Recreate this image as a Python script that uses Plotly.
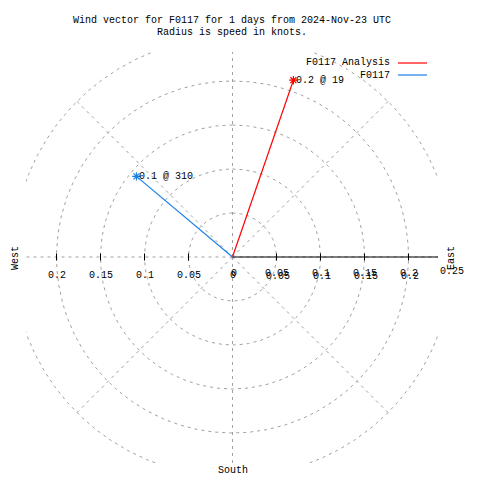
import numpy as np
import plotly.graph_objects as go

# ---------------- data ----------------
title_lines = ["Wind vector for F0117 for 1 days from 2024-Nov-23 UTC",
               "Radius is speed in knots."]
series_names = ["F0117 Analysis", "F0117"]
speeds = [0.2125, 0.1425]          # knots
directions = [19, 310]             # degrees from north, clockwise
series_colors = ["#ff0000", "#1a80e6"]
ring_radii = [0.05, 0.1, 0.15, 0.2, 0.25]
spoke_angles = [0, 45, 90, 135, 180, 225, 270, 315]
tick_vals = [0.05, 0.1, 0.15, 0.2]
tick_labels = ["0.05", "0.1", "0.15", "0.2"]
compass_labels = ["West", "East", "South"]

# ---------------- geometry helpers ----------------
W = H = 480
L, R, T, B = 26, 42, 52, 17
PW, PH = W - L - R, H - T - B
SCALE = 880.0                      # px per knot
CX, CY = 232.5, 257.0
xr = [(L - CX) / SCALE, (W - R - CX) / SCALE]
yr = [(CY - (H - B)) / SCALE, (CY - T) / SCALE]


def pxx(px):
    return (px - L) / PW


def pxy(py):
    return (H - B - py) / PH


def dx2px(x):
    return CX + x * SCALE


FONT = "Liberation Mono, DejaVu Sans Mono, monospace"
GRID = "#a0a0a0"
DASH = "3px,4px"

fig = go.Figure()

# polar grid rings
th = np.linspace(0, 2 * np.pi, 721)
for r in ring_radii:
    fig.add_trace(go.Scatter(x=r * np.sin(th), y=r * np.cos(th), mode="lines",
                             line=dict(color=GRID, width=1, dash=DASH),
                             hoverinfo="skip", showlegend=False))
# spokes
rmax = max(ring_radii)
for a in spoke_angles:
    ar = np.deg2rad(a)
    fig.add_trace(go.Scatter(x=[0, rmax * np.sin(ar)], y=[0, rmax * np.cos(ar)], mode="lines",
                             line=dict(color=GRID, width=1, dash=DASH),
                             hoverinfo="skip", showlegend=False))

# radial axis (solid) to the right
fig.add_trace(go.Scatter(x=[0, xr[1]], y=[0, 0], mode="lines",
                         line=dict(color="black", width=1.2),
                         hoverinfo="skip", showlegend=False))
# tick marks both sides
tx, ty = [], []
h = 3.5 / SCALE
for v in tick_vals:
    for s in (-1, 1):
        tx += [s * v, s * v, None]
        ty += [-h, h, None]
fig.add_trace(go.Scatter(x=tx, y=ty, mode="lines", line=dict(color="black", width=1),
                         hoverinfo="skip", showlegend=False))

# wind vectors
for name, sp, d, c in zip(series_names, speeds, directions, series_colors):
    ar = np.deg2rad(d)
    ex, ey = sp * np.sin(ar), sp * np.cos(ar)
    fig.add_trace(go.Scatter(x=[0, ex], y=[0, ey], mode="lines",
                             line=dict(color=c, width=1.2), name=name, showlegend=False))
    fig.add_trace(go.Scatter(x=[ex], y=[ey], mode="markers",
                             marker=dict(symbol="asterisk-open", size=7, color=c,
                                         line=dict(color=c, width=1.2)),
                             showlegend=False))
    fig.add_annotation(x=ex, y=ey, xref="x", yref="y", text=f"{sp:.1f} @ {d}",
                       showarrow=False, xanchor="left", yanchor="middle", xshift=1,
                       font=dict(family=FONT, size=10, color="black"))

annots = []
# title
for i, t in enumerate(title_lines):
    annots.append(dict(x=pxx(231.5), y=pxy(20 + 13 * i), text=t))

# tick labels: left side
for v, lab in zip(tick_vals, tick_labels):
    annots.append(dict(x=pxx(dx2px(-v)), y=pxy(275), text=lab))
    # right side (overprinted twice, as in the original)
    annots.append(dict(x=pxx(dx2px(v)), y=pxy(273), text=lab))
    annots.append(dict(x=pxx(dx2px(v) + 1), y=pxy(276), text=lab))
annots.append(dict(x=pxx(CX), y=pxy(275), text="0"))
annots.append(dict(x=pxx(CX + 1), y=pxy(273), text="0"))
annots.append(dict(x=pxx(dx2px(0.25)), y=pxy(271), text="0.25"))

# compass labels
annots.append(dict(x=pxx(15), y=pxy(258), text=compass_labels[0], textangle=-90))
annots.append(dict(x=pxx(451), y=pxy(258), text=compass_labels[1], textangle=-90))
annots.append(dict(x=pxx(CX), y=pxy(470), text=compass_labels[2]))

for a in annots:
    fig.add_annotation(xref="paper", yref="paper", showarrow=False,
                       xanchor="center", yanchor="middle",
                       font=dict(family=FONT, size=10, color="black"), **a)

# legend (gnuplot style: text then sample line)
for i, (name, c) in enumerate(zip(series_names, series_colors)):
    yy = 63 + 12 * i
    fig.add_annotation(xref="paper", yref="paper", x=pxx(392), y=pxy(yy), text=name,
                       showarrow=False, xanchor="right", yanchor="middle",
                       font=dict(family=FONT, size=10, color="black"))
    fig.add_shape(type="line", xref="paper", yref="paper",
                  x0=pxx(398), x1=pxx(427), y0=pxy(yy), y1=pxy(yy),
                  line=dict(color=c, width=1.2))

fig.update_layout(
    width=W, height=H, autosize=False,
    margin=dict(l=L, r=R, t=T, b=B, pad=0),
    paper_bgcolor="white", plot_bgcolor="white",
    showlegend=False,
    xaxis=dict(range=xr, visible=False, fixedrange=True),
    yaxis=dict(range=yr, visible=False, fixedrange=True),
    hovermode=False,
)

fig.write_html("out.html", config={"displayModeBar": False},
               post_script="document.body.style.margin='0';document.body.style.overflow='hidden';")
